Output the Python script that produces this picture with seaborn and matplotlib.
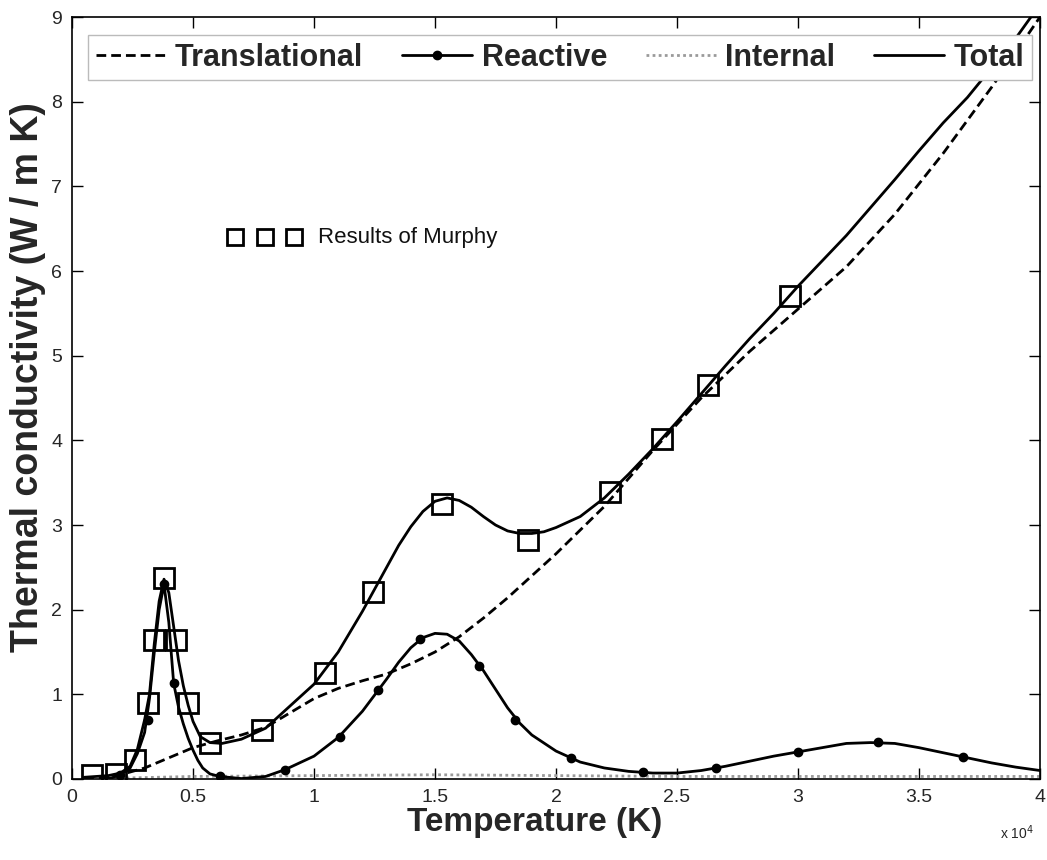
import numpy as np
import pandas as pd
import seaborn as sns
import matplotlib
matplotlib.use("Agg")
import matplotlib.pyplot as plt
from matplotlib.lines import Line2D

# ---------------- data (temperature in units of 1e4 K) ----------------
tr_x = [0.05, 0.1, 0.2, 0.3, 0.4, 0.5, 0.6, 0.7, 0.8, 0.9, 1.0, 1.1, 1.2, 1.3,
        1.4, 1.5, 1.6, 1.7, 1.8, 1.9, 2.0, 2.2, 2.4, 2.6, 2.8, 3.0, 3.2, 3.4,
        3.6, 3.8, 4.0]
tr_y = [0.0, 0.01, 0.05, 0.13, 0.25, 0.37, 0.45, 0.52, 0.61, 0.78, 0.95, 1.07,
        1.16, 1.24, 1.36, 1.5, 1.68, 1.9, 2.14, 2.4, 2.66, 3.22, 3.88, 4.5,
        5.05, 5.55, 6.05, 6.67, 7.39, 8.17, 9.0]

re_x = [0.12, 0.16, 0.2, 0.24, 0.27, 0.3, 0.32, 0.34, 0.36, 0.38, 0.40, 0.42,
        0.44, 0.46, 0.48, 0.5, 0.52, 0.54, 0.57, 0.61, 0.7, 0.8, 0.88, 1.0,
        1.1, 1.2, 1.3, 1.35, 1.4, 1.45, 1.5, 1.55, 1.6, 1.65, 1.7, 1.75, 1.8,
        1.85, 1.9, 2.0, 2.1, 2.2, 2.3, 2.4, 2.5, 2.6, 2.7, 2.8, 2.9, 3.0, 3.1,
        3.2, 3.3, 3.4, 3.5, 3.6, 3.7, 3.8, 3.9, 4.0]
re_y = [0.0, 0.01, 0.05, 0.13, 0.3, 0.55, 0.95, 1.5, 2.0, 2.3, 1.85, 1.13,
        0.85, 0.65, 0.48, 0.34, 0.22, 0.13, 0.06, 0.03, 0.005, 0.03, 0.11,
        0.27, 0.49, 0.8, 1.18, 1.38, 1.55, 1.67, 1.72, 1.71, 1.63, 1.47, 1.28,
        1.06, 0.84, 0.66, 0.52, 0.33, 0.2, 0.13, 0.09, 0.07, 0.07, 0.1, 0.15,
        0.21, 0.27, 0.32, 0.37, 0.42, 0.43, 0.42, 0.37, 0.31, 0.25, 0.19,
        0.14, 0.1]

re_mx = [0.2, 0.315, 0.38, 0.42, 0.61, 0.88, 1.107, 1.266, 1.438, 1.68,
         1.83, 2.06, 2.36, 2.66, 3.0, 3.33, 3.68]
re_my = [0.05, 0.70, 2.3, 1.13, 0.03, 0.11, 0.50, 1.05, 1.65, 1.33,
         0.70, 0.25, 0.086, 0.126, 0.32, 0.44, 0.26]

in_x = [0.2, 0.5, 1.0, 1.5, 2.0, 2.5, 3.0, 3.5, 4.0]
in_y = [0.01, 0.03, 0.04, 0.05, 0.04, 0.03, 0.03, 0.03, 0.03]

to_x = [0.05, 0.1, 0.15, 0.2, 0.24, 0.27, 0.3, 0.32, 0.34, 0.36, 0.38, 0.40,
        0.42, 0.44, 0.46, 0.48, 0.5, 0.53, 0.57, 0.62, 0.7, 0.8, 0.9, 1.0,
        1.1, 1.2, 1.3, 1.35, 1.4, 1.45, 1.5, 1.55, 1.6, 1.65, 1.7, 1.75, 1.8,
        1.85, 1.9, 1.95, 2.0, 2.1, 2.2, 2.3, 2.4, 2.5, 2.6, 2.7, 2.8, 2.9,
        3.0, 3.1, 3.2, 3.3, 3.4, 3.5, 3.6, 3.7, 3.8, 3.9, 4.0]
to_y = [0.02, 0.03, 0.04, 0.07, 0.15, 0.35, 0.7, 1.0, 1.6, 2.1, 2.36, 2.2,
        1.8, 1.4, 1.1, 0.87, 0.68, 0.5, 0.43, 0.42, 0.47, 0.6, 0.86, 1.12,
        1.5, 1.98, 2.5, 2.76, 2.98, 3.16, 3.28, 3.32, 3.29, 3.21, 3.1, 3.0,
        2.93, 2.9, 2.9, 2.92, 2.97, 3.1, 3.32, 3.6, 3.9, 4.22, 4.55, 4.88,
        5.2, 5.5, 5.82, 6.12, 6.42, 6.75, 7.08, 7.42, 7.75, 8.05, 8.4, 8.75,
        9.15]

mu_x = [0.084, 0.18, 0.26, 0.315, 0.34, 0.38, 0.43, 0.478, 0.57, 0.784,
        1.045, 1.245, 1.528, 1.886, 2.223, 2.437, 2.63, 2.967]
mu_y = [0.05, 0.06, 0.22, 0.90, 1.64, 2.37, 1.64, 0.90, 0.42, 0.58,
        1.25, 2.21, 3.25, 2.82, 3.39, 4.02, 4.65, 5.71]

note_x = [0.674, 0.798, 0.917]
note_y = [6.4, 6.4, 6.4]

x_ticks = [0, 0.5, 1, 1.5, 2, 2.5, 3, 3.5, 4]
x_tick_labels = ["0", "0.5", "1", "1.5", "2", "2.5", "3", "3.5", "4"]
y_ticks = [0, 1, 2, 3, 4, 5, 6, 7, 8, 9]
legend_labels = ["Translational", "Reactive", "Internal", "Total"]

# ---------------- style ----------------
sns.set_style("ticks")
plt.rcParams["font.family"] = ["Liberation Sans", "DejaVu Sans"]

fig = plt.figure(figsize=(10.47, 8.6), dpi=100)
ax = fig.add_axes([0.0688, 0.0942, 0.9245, 0.886])

lw = 2.0
sns.lineplot(x=in_x, y=in_y, ax=ax, color="#9a9a9a", lw=2.0,
             linestyle=(0, (1, 1.2)), estimator=None, sort=False)
sns.lineplot(x=tr_x, y=tr_y, ax=ax, color="black", lw=lw,
             linestyle=(0, (3.5, 1.8)), estimator=None, sort=False)
sns.lineplot(x=re_x, y=re_y, ax=ax, color="black", lw=lw,
             estimator=None, sort=False)
ax.plot(re_mx, re_my, ls="none", marker="o", ms=6, color="black")
sns.lineplot(x=to_x, y=to_y, ax=ax, color="black", lw=lw,
             estimator=None, sort=False)
ax.plot(mu_x, mu_y, ls="none", marker="s", ms=14, mfc="none",
        mec="black", mew=2.0)

# annotation "Results of Murphy"
ax.plot(note_x, note_y, ls="none", marker="s", ms=12, mfc="none",
        mec="black", mew=2.0)
ax.text(1.017, 6.4, "Results of Murphy", fontsize=16, va="center",
        ha="left", color="#111111")

ax.set_xlim(0, 4)
ax.set_ylim(0, 9)
ax.set_xticks(x_ticks)
ax.set_xticklabels(x_tick_labels)
ax.set_yticks(y_ticks)
ax.tick_params(direction="in", length=8, width=1, labelsize=14,
               top=True, right=True, color="black", pad=7)
for s in ax.spines.values():
    s.set_visible(True)
    s.set_color("black")
    s.set_linewidth(1.2)

ax.set_xlabel("Temperature (K)", fontsize=24, fontweight="bold")
ax.set_ylabel("Thermal conductivity (W / m K)", fontsize=27,
              fontweight="bold")
ax.xaxis.set_label_coords(0.478, -0.037)
ax.yaxis.set_label_coords(-0.027, 0.528)

fig.text(0.955, 0.032, r"x 10$^4$", fontsize=10, ha="left", va="center")

handles = [
    Line2D([], [], color="black", lw=lw, linestyle=(0, (3.5, 1.8))),
    Line2D([], [], color="black", lw=lw, marker="o", ms=6),
    Line2D([], [], color="#9a9a9a", lw=2.0, linestyle=(0, (1, 1.2))),
    Line2D([], [], color="black", lw=lw),
]
leg = ax.legend(handles, legend_labels, ncol=4, loc="lower left",
                mode="expand", bbox_to_anchor=(0.0165, 0.917, 0.975, 0.066),
                prop={"size": 22, "weight": "bold"}, frameon=True,
                fancybox=False, edgecolor="#bbbbbb", framealpha=1,
                handlelength=2.3, handletextpad=0.3, borderaxespad=0,
                borderpad=0.25)

fig.savefig("out.png", dpi=100)
